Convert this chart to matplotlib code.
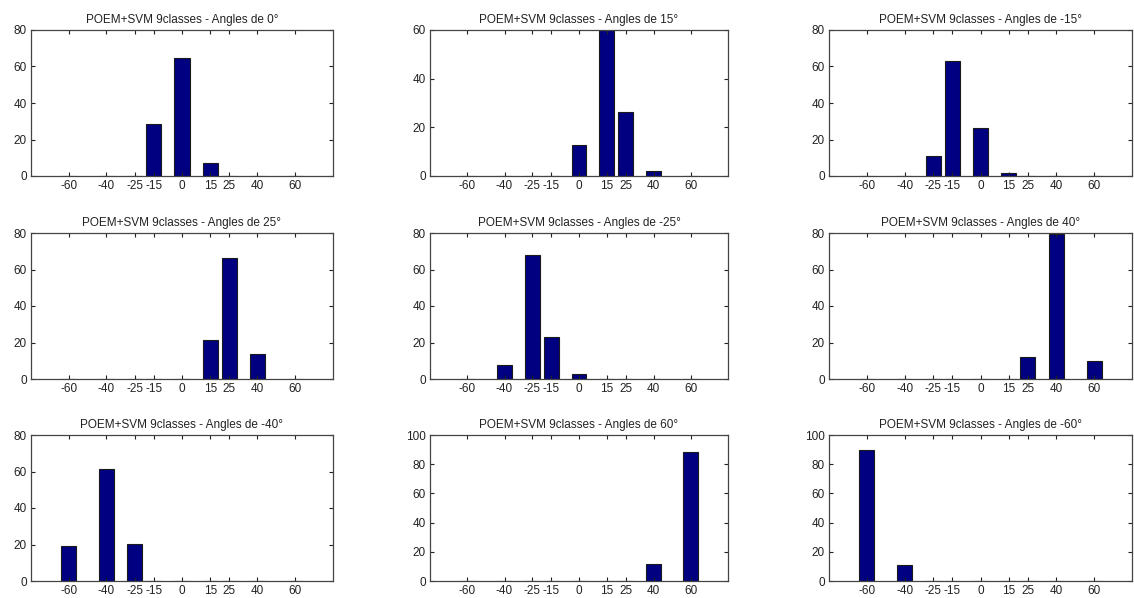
import matplotlib.pyplot as plt
import numpy as np

plt.rcParams['font.family'] = ['Liberation Sans', 'DejaVu Sans']

angles = [-60, -40, -25, -15, 0, 15, 25, 40, 60]
tick_labels = ['-60', '-40', '-25', '-15', '0', '15', '25', '40', '60']

# one histogram per test angle (percent of predictions per class)
titles = ['0', '15', '-15', '25', '-25', '40', '-40', '60', '-60']
ang_0 = [0, 0, 0, 28.3, 64.8, 7.3, 0, 0, 0]
ang_15 = [0, 0, 0, 0, 12.9, 59.8, 26.3, 2.2, 0]
ang_m15 = [0, 0, 10.8, 62.8, 26.5, 1.6, 0, 0, 0]
ang_25 = [0, 0, 0, 0, 0, 21.1, 66.1, 13.7, 0]
ang_m25 = [0, 7.5, 67.9, 23.1, 2.6, 0, 0, 0, 0]
ang_40 = [0, 0, 0, 0, 0, 0, 11.9, 79.5, 9.9]
ang_m40 = [19.4, 61.6, 20.1, 0, 0, 0, 0, 0, 0]
ang_60 = [0, 0, 0, 0, 0, 0, 0, 11.9, 88.6]
ang_m60 = [89.7, 10.7, 0, 0, 0, 0, 0, 0, 0]
series = [ang_0, ang_15, ang_m15, ang_25, ang_m25, ang_40, ang_m40, ang_60, ang_m60]
ytops = [80, 60, 80, 80, 80, 80, 80, 100, 100]

W, H = 1134, 598
fig = plt.figure(figsize=(W / 100, H / 100), dpi=100)

cols = [(31, 333), (430, 728), (829, 1132)]
rows = [(30, 176), (233, 379), (435, 581)]

for i, vals in enumerate(series):
    x0, x1 = cols[i % 3]
    y0, y1 = rows[i // 3]
    ax = fig.add_axes([x0 / W, (H - y1) / H, (x1 - x0) / W, (y1 - y0) / H])
    ax.bar(angles, vals, width=8, color='#000080', edgecolor='#1a1a1a', linewidth=0.8)
    ax.set_xlim(-80, 80)
    ax.set_ylim(0, ytops[i])
    ax.set_xticks(angles)
    ax.set_xticklabels(tick_labels)
    ax.set_yticks(np.arange(0, ytops[i] + 1, 20))
    ax.tick_params(direction='in', top=True, right=True, length=3, width=0.8,
                   labelsize=8.5, colors='#222222', pad=3)
    for s in ax.spines.values():
        s.set_color('#444444')
        s.set_linewidth(0.9)
    ax.set_title('POEM+SVM 9classes - Angles de %s°' % titles[i], fontsize=8.5,
                 color='#222222', pad=5)

fig.savefig('out.png', dpi=100)
